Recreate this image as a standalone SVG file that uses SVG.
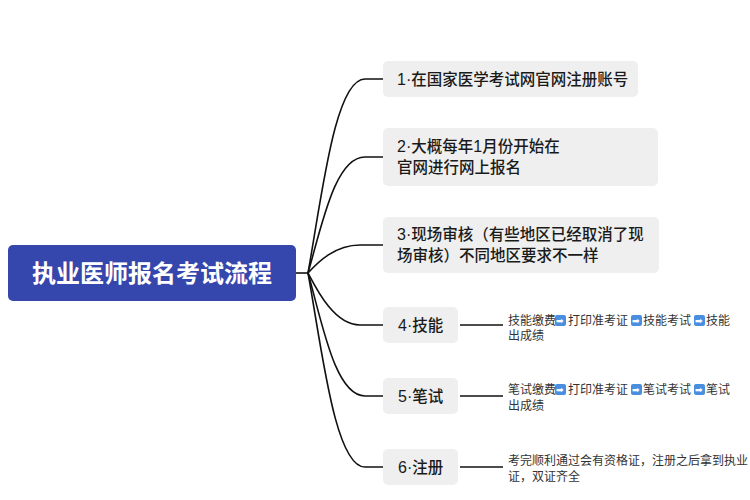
<svg xmlns="http://www.w3.org/2000/svg" width="750" height="500" viewBox="0 0 750 500">
<style>
.node{fill:#efefef}
.t{font-family:"Noto Sans CJK SC","Noto Sans",sans-serif;font-size:15.5px;font-weight:500;fill:#1a1a1a}
.n{font-family:"Liberation Sans","Noto Sans",sans-serif;font-size:16px}
.leaf{font-family:"Noto Sans CJK SC","Noto Sans",sans-serif;font-size:12px;fill:#333}
.ic{fill:#4a8fdf}
.ar{font-family:"DejaVu Sans",sans-serif;font-size:9px;fill:#fff}
.c{fill:none;stroke:#111;stroke-width:1.6}
</style>
<rect width="750" height="500" fill="#fff"/>
<g id="connectors">
<path class="c" d="M296,273 H308"/>
<path class="c" d="M308,273 C322,195 335,79 365,79 H383"/>
<path class="c" d="M308,273 C322,225 335,157 365,157 H383"/>
<path class="c" d="M308,273 C318,262 335,245 360,245 H383"/>
<path class="c" d="M308,273 C318,292 335,325 360,325 H383"/>
<path class="c" d="M308,273 C322,322 335,396 365,396 H383"/>
<path class="c" d="M308,273 C322,350 335,467 365,467 H383"/>
<path class="c" d="M460,325 H503"/>
<path class="c" d="M460,396 H503"/>
<path class="c" d="M460,467 H503"/>
</g>
<g id="root">
<rect x="8" y="245" width="288" height="56" rx="5" fill="#3547ad"/>
<text x="152" y="281.5" text-anchor="middle" font-family="'Noto Sans CJK SC',sans-serif" font-size="24px" font-weight="bold" fill="#fff">执业医师报名考试流程</text>
</g>
<g id="n1">
<rect class="node" x="383" y="61" width="255" height="36" rx="5"/>
<text class="t" x="397" y="84.5"><tspan class="n">1·</tspan>在国家医学考试网官网注册账号</text>
</g>
<g id="n2">
<rect class="node" x="383" y="128" width="275" height="58" rx="5"/>
<text class="t" x="397" y="152"><tspan class="n">2·</tspan>大概每年<tspan class="n">1</tspan>月份开始在<tspan x="397" y="172.5">官网进行网上报名</tspan></text>
</g>
<g id="n3">
<rect class="node" x="383" y="217" width="276" height="56" rx="5"/>
<text class="t" x="397" y="240"><tspan class="n">3·</tspan>现场审核（有些地区已经取消了现<tspan x="397" y="260.5">场审核）不同地区要求不一样</tspan></text>
</g>
<g id="n4">
<rect class="node" x="383" y="307" width="75" height="36" rx="5"/>
<text class="t" x="398" y="330.5"><tspan class="n">4·</tspan>技能</text>
</g>
<g id="n5">
<rect class="node" x="383" y="378" width="75" height="36" rx="5"/>
<text class="t" x="398" y="401.5"><tspan class="n">5·</tspan>笔试</text>
</g>
<g id="n6">
<rect class="node" x="383" y="449" width="75" height="36" rx="5"/>
<text class="t" x="398" y="472.5"><tspan class="n">6·</tspan>注册</text>
</g>
<g id="leaf4">
<rect class="ic" x="555" y="315" width="11" height="11" rx="2"/>
<rect class="ic" x="631" y="315" width="11" height="11" rx="2"/>
<rect class="ic" x="694" y="315" width="11" height="11" rx="2"/>
<text class="leaf" x="508" y="324.5">技能缴费<tspan class="ar" x="556" y="323.8">➡</tspan><tspan x="568" y="324.5">打印准考证</tspan><tspan class="ar" x="632" y="323.8">➡</tspan><tspan x="643" y="324.5">技能考试</tspan><tspan class="ar" x="695" y="323.8">➡</tspan><tspan x="706" y="324.5">技能</tspan><tspan x="508" y="340">出成绩</tspan></text>
</g>
<g id="leaf5">
<rect class="ic" x="555" y="384" width="11" height="11" rx="2"/>
<rect class="ic" x="631" y="384" width="11" height="11" rx="2"/>
<rect class="ic" x="694" y="384" width="11" height="11" rx="2"/>
<text class="leaf" x="508" y="393.5">笔试缴费<tspan class="ar" x="556" y="392.8">➡</tspan><tspan x="568" y="393.5">打印准考证</tspan><tspan class="ar" x="632" y="392.8">➡</tspan><tspan x="643" y="393.5">笔试考试</tspan><tspan class="ar" x="695" y="392.8">➡</tspan><tspan x="706" y="393.5">笔试</tspan><tspan x="508" y="409.5">出成绩</tspan></text>
</g>
<g id="leaf6">
<text class="leaf" x="508" y="464.5">考完顺利通过会有资格证，注册之后拿到执业<tspan x="508" y="480.5">证，双证齐全</tspan></text>
</g>
</svg>
